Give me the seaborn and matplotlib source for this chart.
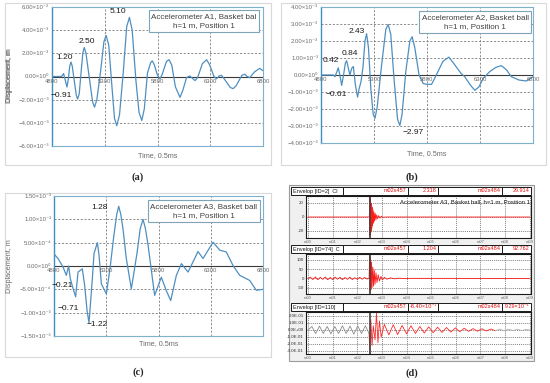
"""
plot.py

Displacement traces of accelerometers A1-A3 (basket ball, h=1 m) and
the envelope screenshot panel, redrawn with seaborn.
"""

import matplotlib
matplotlib.use("Agg")

import matplotlib.pyplot as plt
from matplotlib.patches import Rectangle
import numpy as np
import seaborn as sns

W, H = 550, 383

# =========================
# DATA (displacements in 1e-3 m, time in 0.5 ms samples)
# =========================

time_ticks = [4800, 5300, 5800, 6300, 6800]

a_time = [4800, 4890, 4902, 4910, 4925, 4942, 4955, 4968, 4980, 4992, 5010,
          5030, 5043, 5058, 5075, 5093, 5106, 5122, 5155, 5185, 5203, 5225,
          5260, 5292, 5313, 5338, 5365, 5392, 5414, 5440, 5475, 5508, 5534,
          5560, 5595, 5625, 5651, 5675, 5705, 5735, 5751, 5770, 5800, 5824,
          5845, 5885, 5909, 5935, 5970, 6013, 6040, 6075, 6107, 6130, 6155,
          6180, 6225, 6265, 6295, 6335, 6359, 6385, 6407, 6440, 6490, 6517,
          6545, 6600, 6627, 6650, 6674, 6720, 6769, 6800]
a_disp = [0.0, 0.0, 0.15, 0.25, -0.30, -0.91, -0.20, 0.90, 1.25, 0.90, -0.30,
          -1.60, -1.95, -1.50, 0.30, 2.10, 2.50, 2.00, -0.20, -2.20, -2.65, -2.00,
          0.40, 3.00, 3.55, 2.70, -0.50, -3.60, -4.25, -3.30, 0.30, 4.30, 5.10,
          4.00, -0.30, -3.10, -3.80, -2.80, 0.30, 1.20, 1.35, 1.00, 0.10, -0.20,
          0.20, 1.30, 1.45, 1.00, -0.90, -1.80, -1.20, -0.10, 0.05, -0.15, -0.35,
          -0.10, 1.10, 1.45, 1.00, 0.00, -0.20, 0.05, 0.10, -0.30, -0.95, -1.05,
          -0.80, 0.10, 0.20, 0.00, -0.10, 0.40, 0.70, 0.50]
a_notes = [(5426, 5.57, "5.10"), (5132, 2.98, "2.50"),
           (4923, 1.68, "1.20"), (4885, -1.68, "\u22120.91")]

b_time = [4800, 4916, 4932, 4950, 4963, 4978, 4995, 5010, 5030, 5042, 5058,
          5073, 5090, 5105, 5125, 5145, 5160, 5177, 5195, 5215, 5230, 5248,
          5270, 5292, 5309, 5330, 5370, 5412, 5434, 5458, 5490, 5522, 5544,
          5565, 5600, 5638, 5660, 5685, 5725, 5764, 5800, 5843, 5880, 5950,
          6006, 6050, 6120, 6156, 6210, 6251, 6290, 6330, 6392, 6450, 6502,
          6550, 6596, 6670, 6737, 6800]
b_disp = [0.0, 0.0, -0.10, 0.20, 0.42, 0.00, -0.61, -0.10, 0.70, 0.84, 0.40,
          0.00, 0.40, 0.50, -0.60, -1.30, -0.80, -0.40, 0.40, 2.00, 2.43, 1.60,
          -0.80, -2.30, -2.55, -1.90, 0.50, 2.70, 2.97, 2.40, -0.30, -2.60, -2.97,
          -2.30, 0.20, 2.00, 2.25, 1.60, 0.00, -0.50, -0.55, -0.55, -0.10, 0.80,
          1.05, 0.70, 0.10, -0.10, -0.60, -0.90, -0.70, -0.20, 0.20, 0.45, 0.55,
          0.30, -0.10, -0.30, -0.35, -0.10]
b_notes = [(4894, 0.88, "0.42"), (5073, 1.24, "0.84"), (5140, 2.53, "2.43"),
           (4941, -1.17, "\u22120.61"), (5668, -3.41, "\u22122.97")]

c_time = [4800, 4838, 4886, 4918, 4940, 4956, 4982, 5007, 5030, 5071, 5093,
          5116, 5135, 5167, 5183, 5215, 5231, 5253, 5301, 5339, 5371, 5400,
          5419, 5440, 5460, 5492, 5540, 5594, 5625, 5652, 5675, 5700, 5763,
          5827, 5875, 5917, 5971, 6019, 6083, 6178, 6226, 6322, 6386, 6449,
          6513, 6577, 6673, 6736, 6800]
c_disp = [0.26, 0.16, -0.02, -0.20, 0.0, -0.27, -0.48, -0.66, -0.13, -0.06, -0.41,
          -0.95, -1.22, -0.27, 0.27, 0.50, 0.23, -0.38, -0.60, 0.0, 0.62, 1.10,
          1.28, 1.10, 0.80, 0.16, -0.49, 0.27, 0.80, 1.00, 0.80, 0.45, -0.63,
          -0.24, -0.53, -0.74, -0.20, 0.05, -0.13, 0.31, 0.16, 0.51, 0.34, 0.30,
          0.01, -0.20, -0.31, -0.52, -0.50]
c_notes = [(5240, 1.26, "1.28"), (4877, -0.41, "\u22120.21"),
           (4934, -0.90, "\u22120.71"), (5212, -1.26, "\u22121.22")]

# envelope screenshot (d), time in minutes
env_ticks = list(range(10))
env_labels = [f"m{m:02d}" for m in env_ticks]

s1_time = [0.0, 2.49, 2.50, 2.51, 2.52, 2.53, 2.54, 2.55, 2.56, 2.57, 2.58, 2.59,
           2.60, 2.62, 2.64, 2.66, 2.68, 2.70, 2.73, 2.76, 2.79, 2.83, 2.87, 2.92,
           2.98, 3.05, 3.15, 9.0]
s1_vals = [0, 0, 28, -27, 26, -25, 23, -22, 20, -19, 17, -16,
           14, -12, 10, -9, 7, -6, 5, -4, 3, -2.5, 2, -1.5,
           1, -0.5, 0, 0]

s2_time = [0.0, 0.1, 0.2, 0.3, 0.4, 0.5, 0.6, 0.7, 0.8, 0.9, 1.0, 1.1, 1.2,
           1.3, 1.4, 1.5, 1.6, 1.7, 1.8, 1.9, 2.0, 2.1, 2.2, 2.3, 2.4, 2.48,
           2.50, 2.52, 2.54, 2.56, 2.58, 2.60, 2.63, 2.66, 2.69, 2.72, 2.76, 2.80,
           2.85, 2.90, 2.96, 3.02, 3.10, 3.20, 3.35, 3.50, 3.70, 3.90, 4.20, 9.0]
s2_vals = [0, 7, -6, 8, -7, 6, -5, 8, -7, 5, -6, 7, -4,
           6, -7, 5, -5, 7, -6, 4, -5, 6, -4, 5, -3, 0,
           130, -75, 115, -62, 88, -50, 62, -42, 45, -32, 30, -22,
           20, -14, 11, -8, 6, -4, 3, -2, 1.5, -1, 0.5, 0]

s3_pre_time = [0.0, 0.16, 0.31, 0.47, 0.62, 0.78, 0.93, 1.09, 1.24, 1.40, 1.55,
               1.71, 1.86, 2.02, 2.17, 2.33, 2.48]
s3_pre_vals = [0.0, 0.05, -0.05, 0.055, -0.05, 0.05, -0.055, 0.05, -0.05, 0.06,
               -0.05, 0.055, -0.06, 0.06, -0.05, 0.06, -0.05]
s3_time = [2.48, 2.51, 2.55, 2.60, 2.65, 2.72, 2.78, 2.84, 2.90, 2.97, 3.10,
           3.28, 3.46, 3.64, 3.82, 4.00, 4.18, 4.36, 4.54, 4.72, 4.90, 5.08,
           5.26, 5.44, 5.62, 5.80, 5.98, 6.16, 6.34, 6.52, 6.70, 6.88, 7.06,
           7.24, 7.42, 7.60]
s3_vals = [-0.05, -0.34, 0.15, -0.22, 0.06, -0.14, 0.24, -0.18, 0.13, -0.10, 0.08,
           -0.07, 0.075, -0.065, 0.065, -0.055, 0.06, -0.05, 0.05, -0.045, 0.045, -0.04,
           0.04, -0.035, 0.035, -0.03, 0.03, -0.025, 0.025, -0.02, 0.02, -0.018, 0.018,
           -0.015, 0.015, -0.012]
s3_tail_time = [7.60, 7.78, 7.96, 8.14, 8.32, 8.50, 8.68, 8.86, 9.0]
s3_tail_vals = [-0.012, 0.014, -0.012, 0.012, -0.01, 0.01, -0.008, 0.008, 0.0]

headers = [
    ("Envelop [ID=2]  Cl", "m02s457", "2.318", "m02s484", "29.914"),
    ("Envelop [ID=74]  C", "m02s457", "1.204", "m02s484", "92.762"),
    ("Envelop [ID=110]", "m02s457", "-8.40\u00d710\u207b\u00b9", "m02s484", "9.29\u00d710\u207b\u00b9"),
]

# =========================
# STYLE
# =========================

sns.set_theme(style="white")
plt.rcParams["font.family"] = ["Liberation Sans", "DejaVu Sans"]

LINE = "#4f8fc0"
GRAY = "#6b6b6b"
FRAME = "#7fb0cc"
SUP = str.maketrans("-0123456789", "\u207b\u2070\u00b9\u00b2\u00b3\u2074\u2075\u2076\u2077\u2078\u2079")

fig = plt.figure(figsize=(W / 100, H / 100), dpi=100)


def add_ax(left, top, right, bottom):
    return fig.add_axes([left / W, 1 - bottom / H, (right - left) / W, (bottom - top) / H])


def sci_label(v):
    if abs(v) < 1e-12:
        return "0.00\u00d710\u2070"
    exp = int(np.floor(np.log10(abs(v)) + 1e-9))
    mant = v / 10 ** exp
    return f"{mant:.2f}".replace("-", "\u2212") + "\u00d710" + str(exp).translate(SUP)


# background layer in pixel units for frames and captions
bg = fig.add_axes([0, 0, 1, 1])
bg.set_xlim(0, W)
bg.set_ylim(H, 0)
bg.axis("off")

for x0, y0, x1, y1 in [(5, 3, 271, 165), (281, 3, 546, 165), (5, 193, 271, 357)]:
    bg.add_patch(Rectangle((x0, y0), x1 - x0, y1 - y0, fc="white", ec="#d9d9d9", lw=0.8))
bg.add_patch(Rectangle((289, 185), 245, 176, fc="#f0f0f0", ec="#9a9a9a", lw=0.8))

for x, y, s in [(138, 177, "(a)"), (412, 177, "(b)"), (138, 372, "(c)"), (412, 373, "(d)")]:
    bg.text(x, y, s, ha="center", va="center", fontsize=7.5, fontweight="bold",
            family=["Liberation Serif", "DejaVu Serif"])


def draw_trace(box, time, disp, ylim, ystep, notes, legend, legend_xy, xlabel_y):
    ax = add_ax(*box)
    ax.set_facecolor("none")
    yt = np.round(np.arange(-ylim, ylim + 1e-9, ystep), 6)
    # dashed grid at the tick values
    for t in time_ticks[1:-1]:
        ax.axvline(t, color="#7a7a7a", lw=0.6, ls=(0, (2.5, 2)), zorder=1)
    for v in yt[1:-1]:
        ax.axhline(v, color="#7a7a7a", lw=0.6, ls=(0, (2.5, 2)), zorder=1)
    ax.axhline(0, color="#3a3a3a", lw=0.8, zorder=2)
    sns.lineplot(x=time, y=disp, ax=ax, color=LINE, lw=0.9, estimator=None, sort=False, zorder=3)
    ax.set_xlim(time_ticks[0], time_ticks[-1])
    ax.set_ylim(-ylim, ylim)
    ax.set_xticks(time_ticks)
    ax.set_xticklabels([])
    ax.set_yticks(yt)
    ax.set_yticklabels([sci_label(v * 1e-3) for v in yt], fontsize=4.3, color=GRAY)
    ax.tick_params(length=0, pad=2)
    for t in time_ticks:
        ax.text(t, -0.03 * ylim, str(t), ha="center", va="top", fontsize=4.3, color=GRAY, zorder=4)
    for t, v, s in notes:
        ax.text(t, v, s, ha="center", va="center", fontsize=6, color="#1a1a1a", zorder=5)
    for sp in ax.spines.values():
        sp.set_color(FRAME)
        sp.set_linewidth(0.8)
    ax.spines["left"].set_color("#3d8fbf")
    ax.spines["left"].set_linewidth(1.0)
    ax.set_xlabel("")
    ax.set_ylabel("Displacement, m", fontsize=5.2, color=GRAY)
    ax.yaxis.set_label_coords(-(box[0] - 13) / (box[2] - box[0]), 0.5)
    lx = (legend_xy[0] - box[0]) / (box[2] - box[0])
    ly = 1 - (legend_xy[1] - box[1]) / (box[3] - box[1])
    ax.text(lx, ly, legend, transform=ax.transAxes, ha="center", va="center", fontsize=5.8,
            color="#404040", linespacing=1.5, zorder=6,
            bbox=dict(boxstyle="square,pad=0.35", fc="white", ec="#7fa4b8", lw=0.8))
    bg.text((box[0] + box[2]) / 2, xlabel_y, "Time, 0.5ms", ha="center", va="center",
            fontsize=5.2, color=GRAY)
    return ax


draw_trace((52, 7, 263, 146), a_time, a_disp, 6, 2, a_notes,
           "Accelerometer A1, Basket bal\nh=1 m, Position 1", (204, 21), 156)
draw_trace((321, 7, 533, 143), b_time, b_disp, 4, 1, b_notes,
           "Accelerometer A2, Basket ball\nh=1 m, Position 1", (475, 22), 154)
draw_trace((54, 196, 263, 336), c_time, c_disp, 1.5, 0.5, c_notes,
           "Accelerometer A3, Basket ball\nh=1 m, Position 1", (204, 211), 344)


# =========================
# PANEL (d): envelope strips
# =========================

cell_edges = [291, 343, 408, 438, 502, 531]
header_tops = [187, 245, 303]

for top, row in zip(header_tops, headers):
    for i, s in enumerate(row):
        x0, x1 = cell_edges[i], cell_edges[i + 1]
        bg.add_patch(Rectangle((x0, top), x1 - x0, 8, fc="white", ec="#1a1a1a", lw=0.7))
        if i == 0:
            bg.text(x0 + 2, top + 4, s, ha="left", va="center", fontsize=4, color="#1a1a1a")
        else:
            bg.text(x1 - 1.5, top + 4, s, ha="right", va="center", fontsize=4, color="#e01010")


def draw_strip(box, segments, ylim, yticks, yticklabels):
    ax = add_ax(*box)
    ax.set_facecolor("white")
    for times, vals, color in segments:
        sns.lineplot(x=times, y=vals, ax=ax, color=color, lw=0.6, estimator=None, sort=False)
    ax.set_xlim(-0.08, 9.05)
    ax.set_ylim(*ylim)
    ax.set_xticks(env_ticks)
    ax.set_xticklabels(env_labels, fontsize=3, color=GRAY)
    ax.set_yticks(yticks)
    ax.set_yticklabels(yticklabels, fontsize=3.2, color="#333333")
    ax.tick_params(length=0, pad=1.5)
    ax.grid(True, color="#555555", lw=0.5, ls=(0, (1.5, 1.5)))
    ax.axvline(2.5, color="#444444", lw=1.2)
    for sp in ax.spines.values():
        sp.set_color("#1a1a1a")
        sp.set_linewidth(0.8)
    ax.set_xlabel("")
    ax.set_ylabel("")
    return ax


ax1 = draw_strip((306, 196, 531, 238), [(s1_time, s1_vals, "#ff1a1a")],
                 (-30, 30), [20, 0, -20], ["20", "0", "-20"])
ax1.text(0.995, 0.86, "Accelerometer A3, Basket ball, h=1 m, Position 1", transform=ax1.transAxes,
         ha="right", va="center", fontsize=4.3, color="#1a1a1a")

draw_strip((306, 254, 531, 294), [(s2_time, s2_vals, "#ff1a1a")],
           (-84, 132), [100, 50, 0, -50], ["100", "50", "0", "-50"])

draw_strip((306, 312, 531, 354),
           [(s3_pre_time, s3_pre_vals, "#8c8c8c"), (s3_time, s3_vals, "#ff2a2a"),
            (s3_tail_time, s3_tail_vals, "#b0b0b0")],
           (-0.343, 0.257), [0.2, 0.1, 0.0, -0.1, -0.2, -0.3],
           ["2.0E-01", "1.0E-01", "0.0E+00", "-1.0E-01", "-2.0E-01", "-3.0E-01"])

fig.savefig("out.png", dpi=100)
plt.close(fig)
